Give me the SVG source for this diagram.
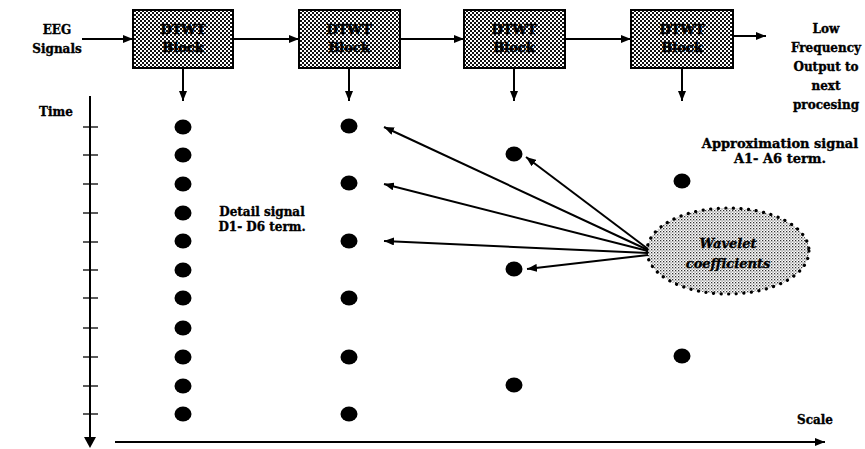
<svg xmlns="http://www.w3.org/2000/svg" width="865" height="449" viewBox="0 0 865 449">
<defs>
<pattern id="chk" patternUnits="userSpaceOnUse" width="4" height="4">
<rect width="4" height="4" fill="#ffffff"/>
<rect x="0" y="0" width="2" height="2" fill="#111"/>
<rect x="2" y="2" width="2" height="2" fill="#111"/>
</pattern>
<pattern id="stip" patternUnits="userSpaceOnUse" width="3" height="3">
<rect width="3" height="3" fill="#ffffff"/>
<rect x="0" y="0" width="1.3" height="1.3" fill="#333"/>
<rect x="1.5" y="1.5" width="1.1" height="1.1" fill="#555"/>
</pattern>
<marker id="ah" viewBox="0 0 10 8" refX="10" refY="4" markerWidth="10" markerHeight="8" markerUnits="userSpaceOnUse" orient="auto">
<path d="M0,0 L10,4 L0,8 z" fill="#000"/>
</marker>
</defs>
<style>
.t{font-family:"DejaVu Serif","Liberation Serif",serif;font-weight:bold;font-size:12px;fill:#000;stroke:#000;stroke-width:0.35;text-anchor:middle}
.bt{font-family:"DejaVu Serif","Liberation Serif",serif;font-weight:bold;font-size:13px;fill:#000;stroke:#000;stroke-width:0.6;text-anchor:middle}
.blk{fill:url(#chk);stroke:#000;stroke-width:2}
.ln{stroke:#000;stroke-width:2;fill:none;marker-end:url(#ah)}
.ax{stroke:#000;stroke-width:2;fill:none}
.dot{fill:#000}
</style>
<rect width="865" height="449" fill="#fff"/>

<g id="labels">
<text class="t" x="57" y="34">EEG</text>
<text class="t" x="57" y="53">Signals</text>
<text class="t" x="826" y="33">Low</text>
<text class="t" x="826" y="52">Frequency</text>
<text class="t" x="826" y="71">Output to</text>
<text class="t" x="826" y="90">next</text>
<text class="t" x="826" y="109">procesing</text>
<text class="t" x="56" y="116">Time</text>
<text class="t" x="815" y="424">Scale</text>
<text class="t" x="262" y="216">Detail signal</text>
<text class="t" x="262" y="231">D1- D6 term.</text>
<text class="t" x="780" y="148" style="font-size:13px">Approximation signal</text>
<text class="t" x="780" y="163" style="font-size:13px">A1- A6 term.</text>
</g>

<g id="block1">
<rect class="blk" x="133" y="10" width="100" height="58"/>
<text class="bt" x="183" y="34">DTWT</text>
<text class="bt" x="183" y="52">Block</text>
</g>
<g id="block2">
<rect class="blk" x="299" y="10" width="101" height="58"/>
<text class="bt" x="349" y="34">DTWT</text>
<text class="bt" x="349" y="52">Block</text>
</g>
<g id="block3">
<rect class="blk" x="464" y="10" width="101" height="58"/>
<text class="bt" x="514" y="34">DTWT</text>
<text class="bt" x="514" y="52">Block</text>
</g>
<g id="block4">
<rect class="blk" x="631" y="10" width="102" height="58"/>
<text class="bt" x="682" y="34">DTWT</text>
<text class="bt" x="682" y="52">Block</text>
</g>

<g id="wavelet">
<ellipse cx="728" cy="251" rx="81" ry="43" fill="url(#stip)" stroke="#000" stroke-width="3.2" stroke-linecap="round" stroke-dasharray="0.1 7.5"/>
<text class="t" x="728" y="248" style="font-style:italic;font-size:13px">Wavelet</text>
<text class="t" x="728" y="268" style="font-style:italic;font-size:13px">coefficients</text>
</g>

<g id="axes">
<line class="ax" x1="90" y1="96" x2="90" y2="440"/>
<path d="M84,437 L96,437 L90,448 z" fill="#000"/>
<g stroke="#000" stroke-width="1.3">
<line x1="83" y1="127" x2="98" y2="127"/>
<line x1="83" y1="155" x2="98" y2="155"/>
<line x1="83" y1="184" x2="98" y2="184"/>
<line x1="83" y1="213" x2="98" y2="213"/>
<line x1="83" y1="242" x2="98" y2="242"/>
<line x1="83" y1="270" x2="98" y2="270"/>
<line x1="83" y1="298" x2="98" y2="298"/>
<line x1="83" y1="328" x2="98" y2="328"/>
<line x1="83" y1="357" x2="98" y2="357"/>
<line x1="83" y1="386" x2="98" y2="386"/>
<line x1="83" y1="414" x2="98" y2="414"/>
</g>
<line class="ln" x1="115" y1="442" x2="825" y2="442"/>
</g>

<g id="dots">
<g class="dot">
<ellipse cx="183" cy="127" rx="8.5" ry="7.5"/>
<ellipse cx="183" cy="155" rx="8.5" ry="7.5"/>
<ellipse cx="183" cy="184" rx="8.5" ry="7.5"/>
<ellipse cx="183" cy="213" rx="8.5" ry="7.5"/>
<ellipse cx="183" cy="241" rx="8.5" ry="7.5"/>
<ellipse cx="183" cy="270" rx="8.5" ry="7.5"/>
<ellipse cx="183" cy="298" rx="8.5" ry="7.5"/>
<ellipse cx="183" cy="328" rx="8.5" ry="7.5"/>
<ellipse cx="183" cy="357" rx="8.5" ry="7.5"/>
<ellipse cx="183" cy="386" rx="8.5" ry="7.5"/>
<ellipse cx="183" cy="414" rx="8.5" ry="7.5"/>
<ellipse cx="349" cy="126" rx="8.5" ry="7.5"/>
<ellipse cx="349" cy="183" rx="8.5" ry="7.5"/>
<ellipse cx="349" cy="241" rx="8.5" ry="7.5"/>
<ellipse cx="349" cy="298" rx="8.5" ry="7.5"/>
<ellipse cx="349" cy="357" rx="8.5" ry="7.5"/>
<ellipse cx="349" cy="414" rx="8.5" ry="7.5"/>
<ellipse cx="514" cy="154" rx="8.5" ry="7.5"/>
<ellipse cx="514" cy="269" rx="8.5" ry="7.5"/>
<ellipse cx="514" cy="385" rx="8.5" ry="7.5"/>
<ellipse cx="682" cy="181" rx="8.5" ry="7.5"/>
<ellipse cx="682" cy="356" rx="8.5" ry="7.5"/>
</g>
</g>

<g id="connectors">
<line class="ln" x1="82" y1="39" x2="133" y2="39"/>
<line class="ln" x1="233" y1="39" x2="299" y2="39"/>
<line class="ln" x1="400" y1="39" x2="464" y2="39"/>
<line class="ln" x1="565" y1="39" x2="631" y2="39"/>
<line class="ln" x1="733" y1="36" x2="766" y2="36"/>
<line class="ln" x1="183" y1="68" x2="183" y2="101"/>
<line class="ln" x1="349" y1="68" x2="349" y2="101"/>
<line class="ln" x1="514" y1="68" x2="514" y2="101"/>
<line class="ln" x1="682" y1="68" x2="682" y2="101"/>
<line class="ln" x1="648" y1="250" x2="384" y2="127"/>
<line class="ln" x1="648" y1="251" x2="384" y2="184"/>
<line class="ln" x1="648" y1="253" x2="384" y2="241"/>
<line class="ln" x1="648" y1="249" x2="526" y2="157"/>
<line class="ln" x1="648" y1="255" x2="527" y2="269"/>
</g>
</svg>
